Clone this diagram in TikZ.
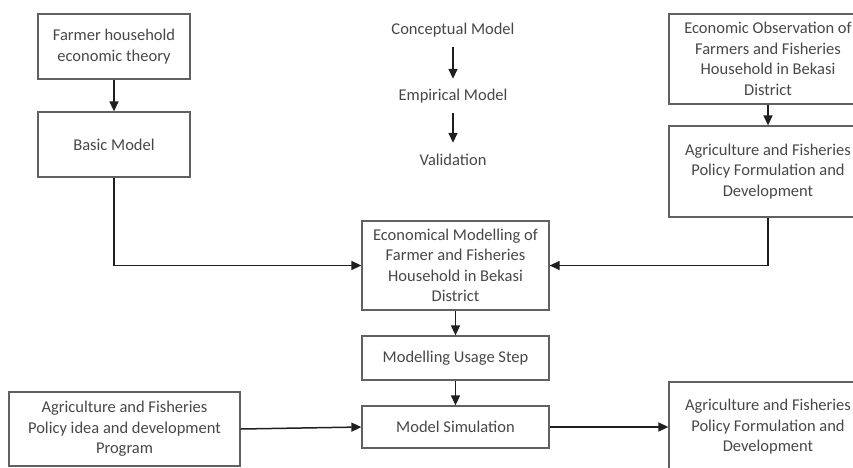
\documentclass[tikz,border=0pt]{standalone}
\usepackage{fontspec}
\setmainfont{Carlito}
\usetikzlibrary{arrows.meta,calc}
\begin{document}
\begin{tikzpicture}[x=1pt,y=-1pt,
  txt/.style={font=\fontsize{16.5}{20.5}\selectfont, text=black!72, align=center},
  box/.style={txt, draw=black!62, line width=1.3pt, inner sep=0pt},
  label/.style={txt, inner sep=0pt, minimum height=34},
  arr/.style={draw=black!88, line width=1.5pt, -{Triangle[length=10pt,width=9pt]}},
  link/.style={draw=black!88, line width=1.5pt}]
\useasboundingbox (0,0) rectangle (853,467);

% left column: theory and basic model
\node[box, minimum width=152, minimum height=65] (theory) at (114,46.5)
  {Farmer household\\economic theory};
\node[box, minimum width=152, minimum height=65] (basic) at (114,144.5)
  {Basic Model};

% modelling stages
\node[label] (concept) at (453,30) {Conceptual Model};
\node[label] (empir) at (453,96) {Empirical Model};
\node[label] (valid) at (453,160) {Validation};

% right column: observation and policy
\node[box, minimum width=198, minimum height=90] (observ) at (768,59)
  {Economic Observation of\\Farmers and Fisheries\\Household in Bekasi\\District};
\node[box, minimum width=198, minimum height=91] (policyA) at (768,171.5)
  {Agriculture and Fisheries\\Policy Formulation and\\Development};

% central chain
\node[box, minimum width=187, minimum height=89] (econ) at (455.5,265.5)
  {Economical Modelling of\\Farmer and Fisheries\\Household in Bekasi\\District};
\node[box, minimum width=187, minimum height=44] (usage) at (455.5,358)
  {Modelling Usage Step};
\node[box, minimum width=187, minimum height=42] (sim) at (455.5,427)
  {Model Simulation};

% bottom inputs and outputs
\node[box, minimum width=231, minimum height=74] (idea) at (124.5,429)
  {Agriculture and Fisheries\\Policy idea and development\\Program};
\node[box, minimum width=198, minimum height=90] (policyB) at (768,427)
  {Agriculture and Fisheries\\Policy Formulation and\\Development};

% connectors
\draw[arr] (theory) -- (basic);
\draw[arr] (concept) -- (empir);
\draw[arr] (empir) -- (valid);
\draw[arr] (observ) -- (policyA);
\draw[arr] (basic.south) |- (econ.west);
\draw[arr] (policyA.south) |- (econ.east);
\draw[arr] (econ) -- (usage);
\draw[arr] (usage) -- (sim);
\draw[arr] (idea.east) -- (sim.west);
\draw[arr] (sim.east) -- (policyB.west);
\end{tikzpicture}
\end{document}
